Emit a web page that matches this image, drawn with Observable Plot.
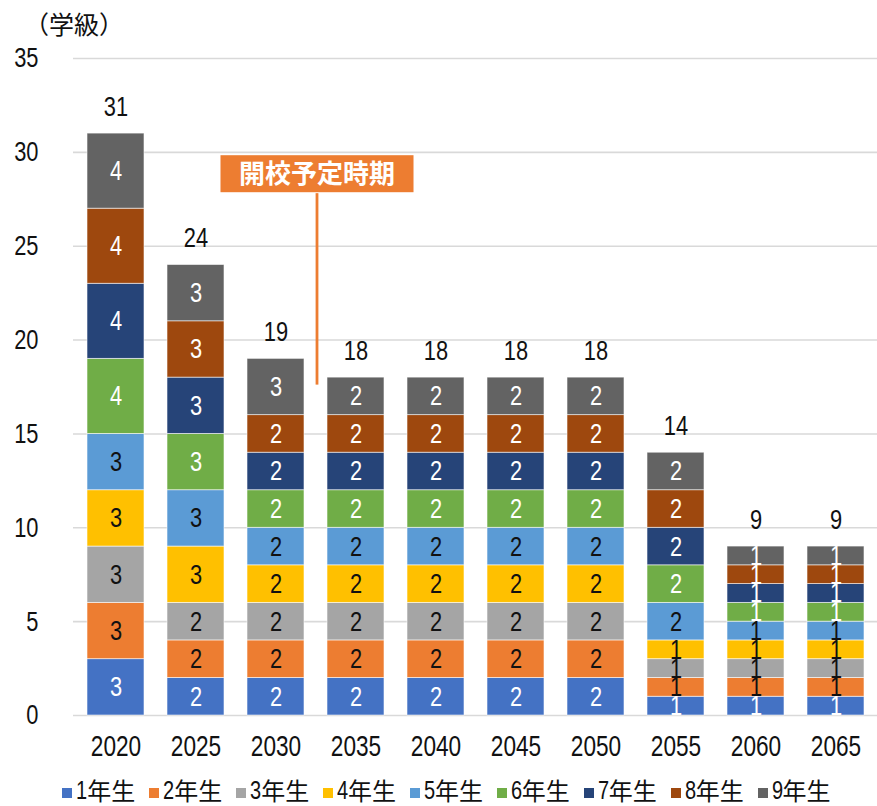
<!DOCTYPE html>
<html><head><meta charset="utf-8">
<script src="https://cdn.jsdelivr.net/npm/d3@7"></script>
<script src="https://cdn.jsdelivr.net/npm/@observablehq/plot@0.6"></script>
<style>
  body { margin:0; background:#fff; font-family:"Liberation Sans","Noto Sans CJK JP",sans-serif; }
  #wrap { position:relative; width:877px; height:806px; overflow:hidden; }
  #ylabel { position:absolute; left:24px; top:5px; font-size:25px; color:#111; font-family:"Noto Sans CJK JP",sans-serif; }
  #legend { position:absolute; left:8px; top:776px; width:877px; display:flex; justify-content:center; gap:14px; font-size:24px; line-height:28px; color:#111; }
  #legend .item { display:flex; align-items:center; }
  #legend .sw { width:10px; height:10px; margin-right:4px; margin-top:5px; }
  #legend .num { display:inline-block; font-family:"Liberation Sans",sans-serif; font-size:25px; transform:scaleX(0.8); transform-origin:left center; margin-right:-3px; }
  #legend .tx { font-family:"Noto Sans CJK JP",sans-serif; }
</style>
</head><body>
<div id="wrap">
  <div id="ylabel">（学級）</div>
  <div id="chart"></div>
  <div id="legend"></div>
</div>
<script>
const years = ["2020","2025","2030","2035","2040","2045","2050","2055","2060","2065"];
const grades = ["1年生","2年生","3年生","4年生","5年生","6年生","7年生","8年生","9年生"];
// classes per grade for each year (rows = grade 1..9)
const g1 = [3,2,2,2,2,2,2,1,1,1];
const g2 = [3,2,2,2,2,2,2,1,1,1];
const g3 = [3,2,2,2,2,2,2,1,1,1];
const g4 = [3,3,2,2,2,2,2,1,1,1];
const g5 = [3,3,2,2,2,2,2,2,1,1];
const g6 = [4,3,2,2,2,2,2,2,1,1];
const g7 = [4,3,2,2,2,2,2,2,1,1];
const g8 = [4,3,2,2,2,2,2,2,1,1];
const g9 = [4,3,3,2,2,2,2,2,1,1];
const yTicks = [0,5,10,15,20,25,30,35];
const annotationLabel = ["開校予定時期"];
const annotationYear = ["2030"];
const annotationLabelY = [28.8];
const annotationLineTop = [27.8];
const annotationLineBottom = [17.6];

const colors = ["#4472C4","#ED7D31","#A5A5A5","#FFC000","#5B9BD5","#70AD47","#264478","#9E480E","#636363"];
const labelColors = ["#fff","#111","#111","#111","#111","#fff","#fff","#fff","#fff"];

const series = [g1,g2,g3,g4,g5,g6,g7,g8,g9];
const data = [];
series.forEach((vals, gi) => vals.forEach((v, yi) => data.push({year: years[yi], grade: grades[gi], value: v, gi})));

const font = '"Liberation Sans","Noto Sans CJK JP",sans-serif';

const plot = Plot.plot({
  width: 877, height: 770,
  marginLeft: 73, marginRight: 0, marginTop: 58, marginBottom: 55,
  style: {fontFamily: font, fontSize: "28px", color: "#111", background: "#fff"},
  x: {domain: years, paddingInner: 0.29, paddingOuter: 0.145, label: null},
  y: {domain: [0,35], ticks: yTicks, label: null},
  color: {domain: grades, range: colors},
  marks: [
    Plot.ruleY(yTicks, {stroke: "#d9d9d9", strokeWidth: 1.6}),
    Plot.axisY({ticks: yTicks, tickSize: 0, tickPadding: 35, fontSize: 28, label: null}),
    Plot.axisX({tickSize: 0, tickPadding: 20, fontSize: 29, label: null}),
    Plot.barY(data, {x: "year", y: "value", fill: "grade", z: "grade", order: grades, stroke: "#ffffff", strokeWidth: 0.8, strokeOpacity: 0.7}),
    Plot.text(data, Plot.stackY({x: "year", y: "value", z: "grade", order: grades, text: d => String(d.value), fill: d => labelColors[d.gi], fontSize: 28})),
    Plot.text(data, Plot.groupX({y: "sum", text: "sum"}, {x: "year", y: "value", text: "value", dy: -27, fill: "#111", fontSize: 28})),
    Plot.ruleX(annotationYear, {x: d => d, y1: annotationLineBottom, y2: annotationLineTop, dx: 41, stroke: "#ED7D31", strokeWidth: 2.8}),
    Plot.text(annotationLabel, {x: annotationYear, y: annotationLabelY, text: d => d, dx: 41, fill: "#fff", fontSize: 26, fontWeight: "bold", fontFamily: '"Noto Sans CJK JP",sans-serif', className: "annot"})
  ]
});
document.getElementById("chart").appendChild(plot);

// condense numeric texts (reference uses a narrow typeface)
plot.querySelectorAll("text").forEach(t => {
  if (t.closest(".annot")) return;
  const w = t.getComputedTextLength();
  if (w > 0) {
    t.setAttribute("textLength", (w * 0.78).toFixed(2));
    t.setAttribute("lengthAdjust", "spacingAndGlyphs");
  }
});

// orange box behind annotation label
const at = plot.querySelector(".annot text");
if (at) {
  const bb = at.getBBox();
  const rect = document.createElementNS("http://www.w3.org/2000/svg","rect");
  const tr = at.getAttribute("transform");
  rect.setAttribute("x", bb.x - 18.5);
  rect.setAttribute("y", bb.y + 2);
  rect.setAttribute("width", bb.width + 37);
  rect.setAttribute("height", bb.height);
  rect.setAttribute("fill", "#ED7D31");
  if (tr) rect.setAttribute("transform", tr);
  at.parentNode.insertBefore(rect, at);
}

const lg = document.getElementById("legend");
grades.forEach((g, i) => {
  const it = document.createElement("div"); it.className = "item";
  const sw = document.createElement("span"); sw.className = "sw"; sw.style.background = colors[i];
  const num = document.createElement("span"); num.className = "num"; num.textContent = g.slice(0,1);
  const tx = document.createElement("span"); tx.className = "tx"; tx.textContent = g.slice(1);
  it.appendChild(sw); it.appendChild(num); it.appendChild(tx); lg.appendChild(it);
});
</script>
</body></html>
